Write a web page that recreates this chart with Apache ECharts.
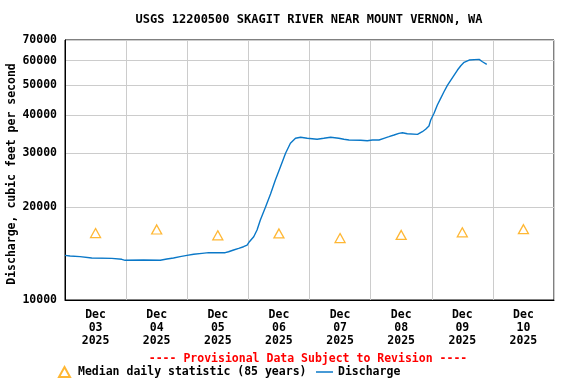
<!DOCTYPE html>
<html>
<head>
<meta charset="utf-8">
<script src="https://cdn.jsdelivr.net/npm/echarts@6/dist/echarts.min.js"></script>
<style>html,body{margin:0;padding:0;background:#fff}#c{width:576px;height:384px}</style>
</head>
<body>
<div id="c"></div>
<script>
// Hours since 2025-12-03 00:00
const hours = [0,2,5.9,10.5,18.4,22.3,23.6,30.8,37.4,40,42.6,45.2,47.9,50.5,53.8,56.4,59,62.9,64.2,66.2,68.2,70.1,71.5,72.4,74.1,75.4,76.7,78.7,80.7,82.6,84.6,86.6,88.5,90.5,92.5,95.1,99.0,101.6,104.3,107.5,109.5,111.5,116.1,118.7,120.7,123.3,125.2,127.2,129.2,131.1,132.5,134.4,138.4,139.0,140.3,141.6,142.9,143.6,144.9,146.2,147.5,148.8,150.2,151.5,152.8,154.1,155.4,156.7,158.7,162.6,163.9,165.6];
const discharge = [13970,13900,13830,13690,13660,13560,13460,13490,13460,13590,13690,13830,13970,14080,14180,14250,14250,14250,14350,14540,14720,14900,15090,15470,16060,16880,18200,20010,22110,24550,27120,29980,32310,33540,33800,33540,33300,33540,33800,33540,33300,33110,33040,32940,33110,33110,33540,33950,34380,34810,34970,34710,34550,34810,35240,35880,36770,38460,40440,43030,45240,47530,49960,51880,53850,55910,57750,59210,60250,60570,59480,58350];
const medianHours = [12,36,60,84,108,132,156,180];
const medianValues = [16510,16950,16230,16460,15900,16270,16600,16990];
const yTicks = [10000,20000,30000,40000,50000,60000,70000];
const xLabelHours = [12,36,60,84,108,132,156,180];
const dayNames = ['03','04','05','06','07','08','09','10'];

const FONT = 'DejaVu Sans Mono';
const chart = echarts.init(document.getElementById('c'), null, {renderer: 'canvas'});
chart.setOption({
  animation: false,
  backgroundColor: '#ffffff',
  title: {
    text: 'USGS 12200500 SKAGIT RIVER NEAR MOUNT VERNON, WA',
    left: 309, top: 14, textAlign: 'center', padding: 0,
    textStyle: {fontFamily: FONT, fontWeight: 'bold', fontSize: 12, color: '#000'}
  },
  grid: {left: 65, top: 40, width: 489, height: 260, containLabel: false, outerBoundsMode: 'none',
    show: true, borderColor: '#000', borderWidth: 1, backgroundColor: 'transparent'},
  xAxis: {
    type: 'value', min: 0, max: 192, interval: 24,
    axisLine: {show: true, lineStyle: {color: '#000', width: 1}},
    axisTick: {show: false},
    splitLine: {show: true, lineStyle: {color: '#cccccc', width: 1}},
    axisLabel: {
      customValues: xLabelHours,
      margin: 9, lineHeight: 13,
      fontFamily: FONT, fontWeight: 'bold', fontSize: 11.5, color: '#000',
      formatter: v => 'Dec\n' + dayNames[Math.floor(v / 24)] + '\n2025'
    }
  },
  yAxis: {
    type: 'log', logBase: 10, min: 10000, max: 70000,
    name: 'Discharge, cubic feet per second',
    nameLocation: 'middle', nameGap: 47, nameRotate: 90, nameMoveOverlap: false,
    nameTextStyle: {fontFamily: FONT, fontWeight: 'bold', fontSize: 11.5, color: '#000', padding: [0, 8, 0, 0]},
    axisLine: {show: true, lineStyle: {color: '#000', width: 1}},
    axisTick: {show: false, customValues: yTicks},
    splitLine: {show: true, lineStyle: {color: '#cccccc', width: 1}},
    axisLabel: {
      customValues: yTicks, margin: 8,
      fontFamily: FONT, fontWeight: 'bold', fontSize: 11.5, color: '#000',
      formatter: v => String(Math.round(v))
    }
  },
  legend: [
    {
      data: [{name: 'Median daily statistic (85 years)', icon: 'triangle'}],
      left: 58, top: 366, padding: 0, itemWidth: 11, itemHeight: 10,
      textStyle: {fontFamily: FONT, fontWeight: 'bold', fontSize: 11.5, color: '#000', padding: [0, 0, 0, 3]}
    },
    {
      data: [{name: 'Discharge', icon: 'rect'}],
      left: 316, top: 366, padding: 0, itemWidth: 17, itemHeight: 1.5,
      textStyle: {fontFamily: FONT, fontWeight: 'bold', fontSize: 11.5, color: '#000'}
    }
  ],
  graphic: [
    {
      type: 'text', x: 308, y: 359,
      style: {text: '---- Provisional Data Subject to Revision ----', fill: '#ff0000',
        font: 'bold 11.5px "DejaVu Sans Mono"', align: 'center', verticalAlign: 'middle'}
    }
  ],
  series: [
    {
      name: 'Discharge', type: 'line', symbol: 'none', smooth: false,
      lineStyle: {color: '#0a78c8', width: 1.4},
      itemStyle: {color: '#0a78c8'},
      data: hours.map((h, i) => [h, discharge[i]]),
      z: 3
    },
    {
      name: 'Median daily statistic (85 years)', type: 'scatter', symbol: 'triangle', symbolSize: [10, 9],
      itemStyle: {color: '#ffffff', borderColor: '#ffa500', borderWidth: 1.3},
      data: medianHours.map((h, i) => [h, medianValues[i]]),
      z: 4
    }
  ]
});
</script>
</body>
</html>
